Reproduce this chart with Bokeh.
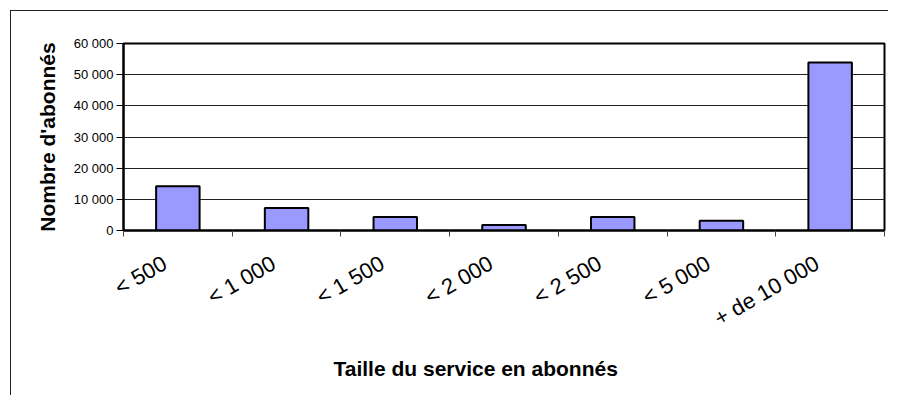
from bokeh.plotting import figure
from bokeh.models import FixedTicker, Range1d, Title, ColumnDataSource
from bokeh.embed import file_html
from bokeh.resources import INLINE
import math

categories = ["< 500", "< 1 000", "< 1 500", "< 2 000", "< 2 500", "< 5 000", "+ de 10 000"]
subscribers = [14200, 7200, 4300, 1800, 4300, 3100, 53900]
y_ticks = [0, 10000, 20000, 30000, 40000, 50000, 60000]
y_tick_labels = ["0", "10 000", "20 000", "30 000", "40 000", "50 000", "60 000"]
y_title = "Nombre d'abonnés"
x_title = "Taille du service en abonnés"

n = len(categories)
centers = [i + 0.5 for i in range(n)]
label_pos = [c - 0.12 for c in centers]   # rotated labels sit slightly left of centre
bounds = [float(i) for i in range(n + 1)]

FONT = "Liberation Sans"

p = figure(width=878, height=385, output_backend="svg", toolbar_location=None,
           x_range=Range1d(0, n), y_range=Range1d(0, 60000),
           min_border_left=112, min_border_top=32, min_border_right=5, min_border_bottom=166)
p.styles = {"margin-left": "10px", "margin-top": "10px",
            "border-left": "1px solid #222", "border-top": "1px solid #222"}
p.background_fill_color = "white"
p.border_fill_color = "white"
p.outline_line_color = "black"
p.outline_line_width = 2

src = ColumnDataSource(dict(x=centers, top=subscribers, cat=categories))
p.vbar(x="x", top="top", width=0.4, source=src, fill_color="#9999FF",
       line_color="black", line_width=2)

p.xgrid.visible = False
p.ygrid.ticker = FixedTicker(ticks=y_ticks)
p.ygrid.grid_line_color = "#222222"
p.ygrid.grid_line_width = 1

xa = p.xaxis[0]
xa.ticker = FixedTicker(ticks=label_pos, minor_ticks=bounds)
xa.major_label_overrides = {c: lab for c, lab in zip(label_pos, categories)}
xa.major_label_orientation = math.radians(30)
xa.major_tick_out = 0
xa.major_tick_in = 0
xa.minor_tick_out = 6
xa.minor_tick_in = 0
xa.minor_tick_line_color = "#444444"
xa.axis_line_width = 2
xa.axis_line_color = "black"
xa.major_label_text_font = FONT
xa.major_label_text_font_size = "22px"
xa.major_label_text_color = "black"
xa.major_label_standoff = 25

ya = p.yaxis[0]
ya.ticker = FixedTicker(ticks=y_ticks)
ya.major_label_overrides = {t: lab for t, lab in zip(y_ticks, y_tick_labels)}
ya.major_tick_out = 7
ya.major_tick_in = 0
ya.major_label_standoff = 3
ya.axis_line_width = 2
ya.axis_line_color = "black"
ya.major_label_text_font = FONT
ya.major_label_text_font_size = "13px"
ya.major_label_text_color = "black"
ya.axis_label = y_title
ya.axis_label_text_font = FONT
ya.axis_label_text_font_style = "bold"
ya.axis_label_text_font_size = "21px"
ya.axis_label_text_color = "black"
ya.axis_label_standoff = 12

t = Title(text=x_title, align="left", offset=210, standoff=20,
          text_font=FONT, text_font_style="bold", text_font_size="21px",
          text_color="black")
p.add_layout(t, "below")

open("out.html", "w").write(file_html(p, INLINE))
